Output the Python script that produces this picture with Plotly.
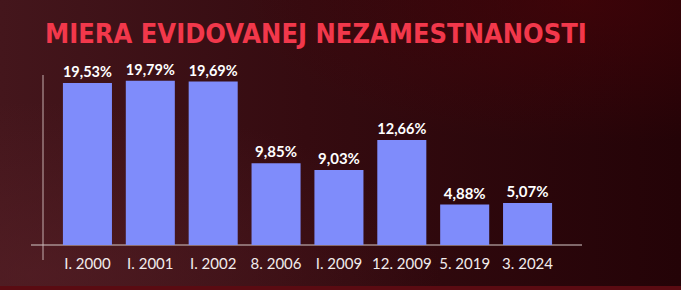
import base64
import plotly.graph_objects as go

categories = ["I. 2000", "I. 2001", "I. 2002", "8. 2006", "I. 2009", "12. 2009", "5. 2019", "3. 2024"]
values = [19.53, 19.79, 19.69, 9.85, 9.03, 12.66, 4.88, 5.07]
value_labels = ["19,53%", "19,79%", "19,69%", "9,85%", "9,03%", "12,66%", "4,88%", "5,07%"]
title_text = "MIERA EVIDOVANEJ NEZAMESTNANOSTI"

W, H = 681, 290
ML, MR, MT, MB = 56, 122, 40, 45
PW = W - ML - MR
PH = H - MT - MB

svg = f"""<svg xmlns='http://www.w3.org/2000/svg' width='{W}' height='{H}' viewBox='0 0 {W} {H}' preserveAspectRatio='none'>
<defs>
<linearGradient id='h' x1='0' y1='0' x2='1' y2='0'>
<stop offset='0' stop-color='#44161c'/>
<stop offset='0.45' stop-color='#350b10'/>
<stop offset='1' stop-color='#240307'/>
</linearGradient>
<radialGradient id='r' cx='0.05' cy='0.95' r='0.6'>
<stop offset='0' stop-color='#5a2229' stop-opacity='0.55'/>
<stop offset='1' stop-color='#5a2229' stop-opacity='0'/>
</radialGradient>
<radialGradient id='t' cx='0.85' cy='0.0' r='0.5'>
<stop offset='0' stop-color='#4a0308' stop-opacity='0.6'/>
<stop offset='1' stop-color='#4a0308' stop-opacity='0'/>
</radialGradient>
</defs>
<rect width='{W}' height='{H}' fill='url(#h)'/>
<rect width='{W}' height='{H}' fill='url(#r)'/>
<rect width='{W}' height='{H}' fill='url(#t)'/>
<rect x='0' y='{H-4}' width='{W}' height='4' fill='#5a0b12'/>
</svg>"""
bg_uri = "data:image/svg+xml;base64," + base64.b64encode(svg.encode()).decode()

fig = go.Figure()
fig.add_trace(go.Bar(
    x=categories, y=values,
    marker=dict(color="#7f8cfb", line=dict(width=0)),
    text=value_labels, textposition="outside",
    textfont=dict(family="Lato", size=15, color="#ffffff", weight="bold"),
    cliponaxis=False,
    hoverinfo="skip",
))

def px_x(p):
    return (p - ML) / PW

def px_y(p):
    return (H - MB - p) / PH

shapes = [
    dict(type="line", xref="paper", yref="paper", x0=px_x(43), x1=px_x(43), y0=px_y(75), y1=px_y(260),
         line=dict(color="rgba(210,190,190,0.45)", width=2), layer="below"),
    dict(type="line", xref="paper", yref="paper", x0=px_x(31), x1=px_x(582), y0=px_y(245), y1=px_y(245),
         line=dict(color="rgba(200,185,185,0.55)", width=2), layer="below"),
]

fig.update_layout(
    width=W, height=H,
    margin=dict(l=ML, r=MR, t=MT, b=MB, pad=0),
    paper_bgcolor="#2e0a0e", plot_bgcolor="rgba(0,0,0,0)",
    bargap=0.22,
    showlegend=False,
    shapes=shapes,
    images=[dict(source=bg_uri, xref="paper", yref="paper", x=-ML / PW, y=(H - MB) / PH,
                 sizex=W / PW, sizey=H / PH, xanchor="left", yanchor="top",
                 sizing="stretch", layer="below")],
    title=dict(text=title_text, x=45 / W, xanchor="left", xref="container",
               y=1 - 34 / H, yanchor="middle", yref="container",
               font=dict(family="DejaVu Sans Condensed, Roboto, sans-serif", size=27,
                         color="#f2384b", weight="bold")),
    xaxis=dict(showgrid=False, zeroline=False, showline=False, ticks="",
               tickfont=dict(family="Lato", size=15, color="#f2ecec"), ticklabelstandoff=8,
               range=[-0.5, 7.5]),
    yaxis=dict(showgrid=False, zeroline=False, showline=False, showticklabels=False,
               range=[0, PH / 8.3]),
)

fig.write_html("out.html")
